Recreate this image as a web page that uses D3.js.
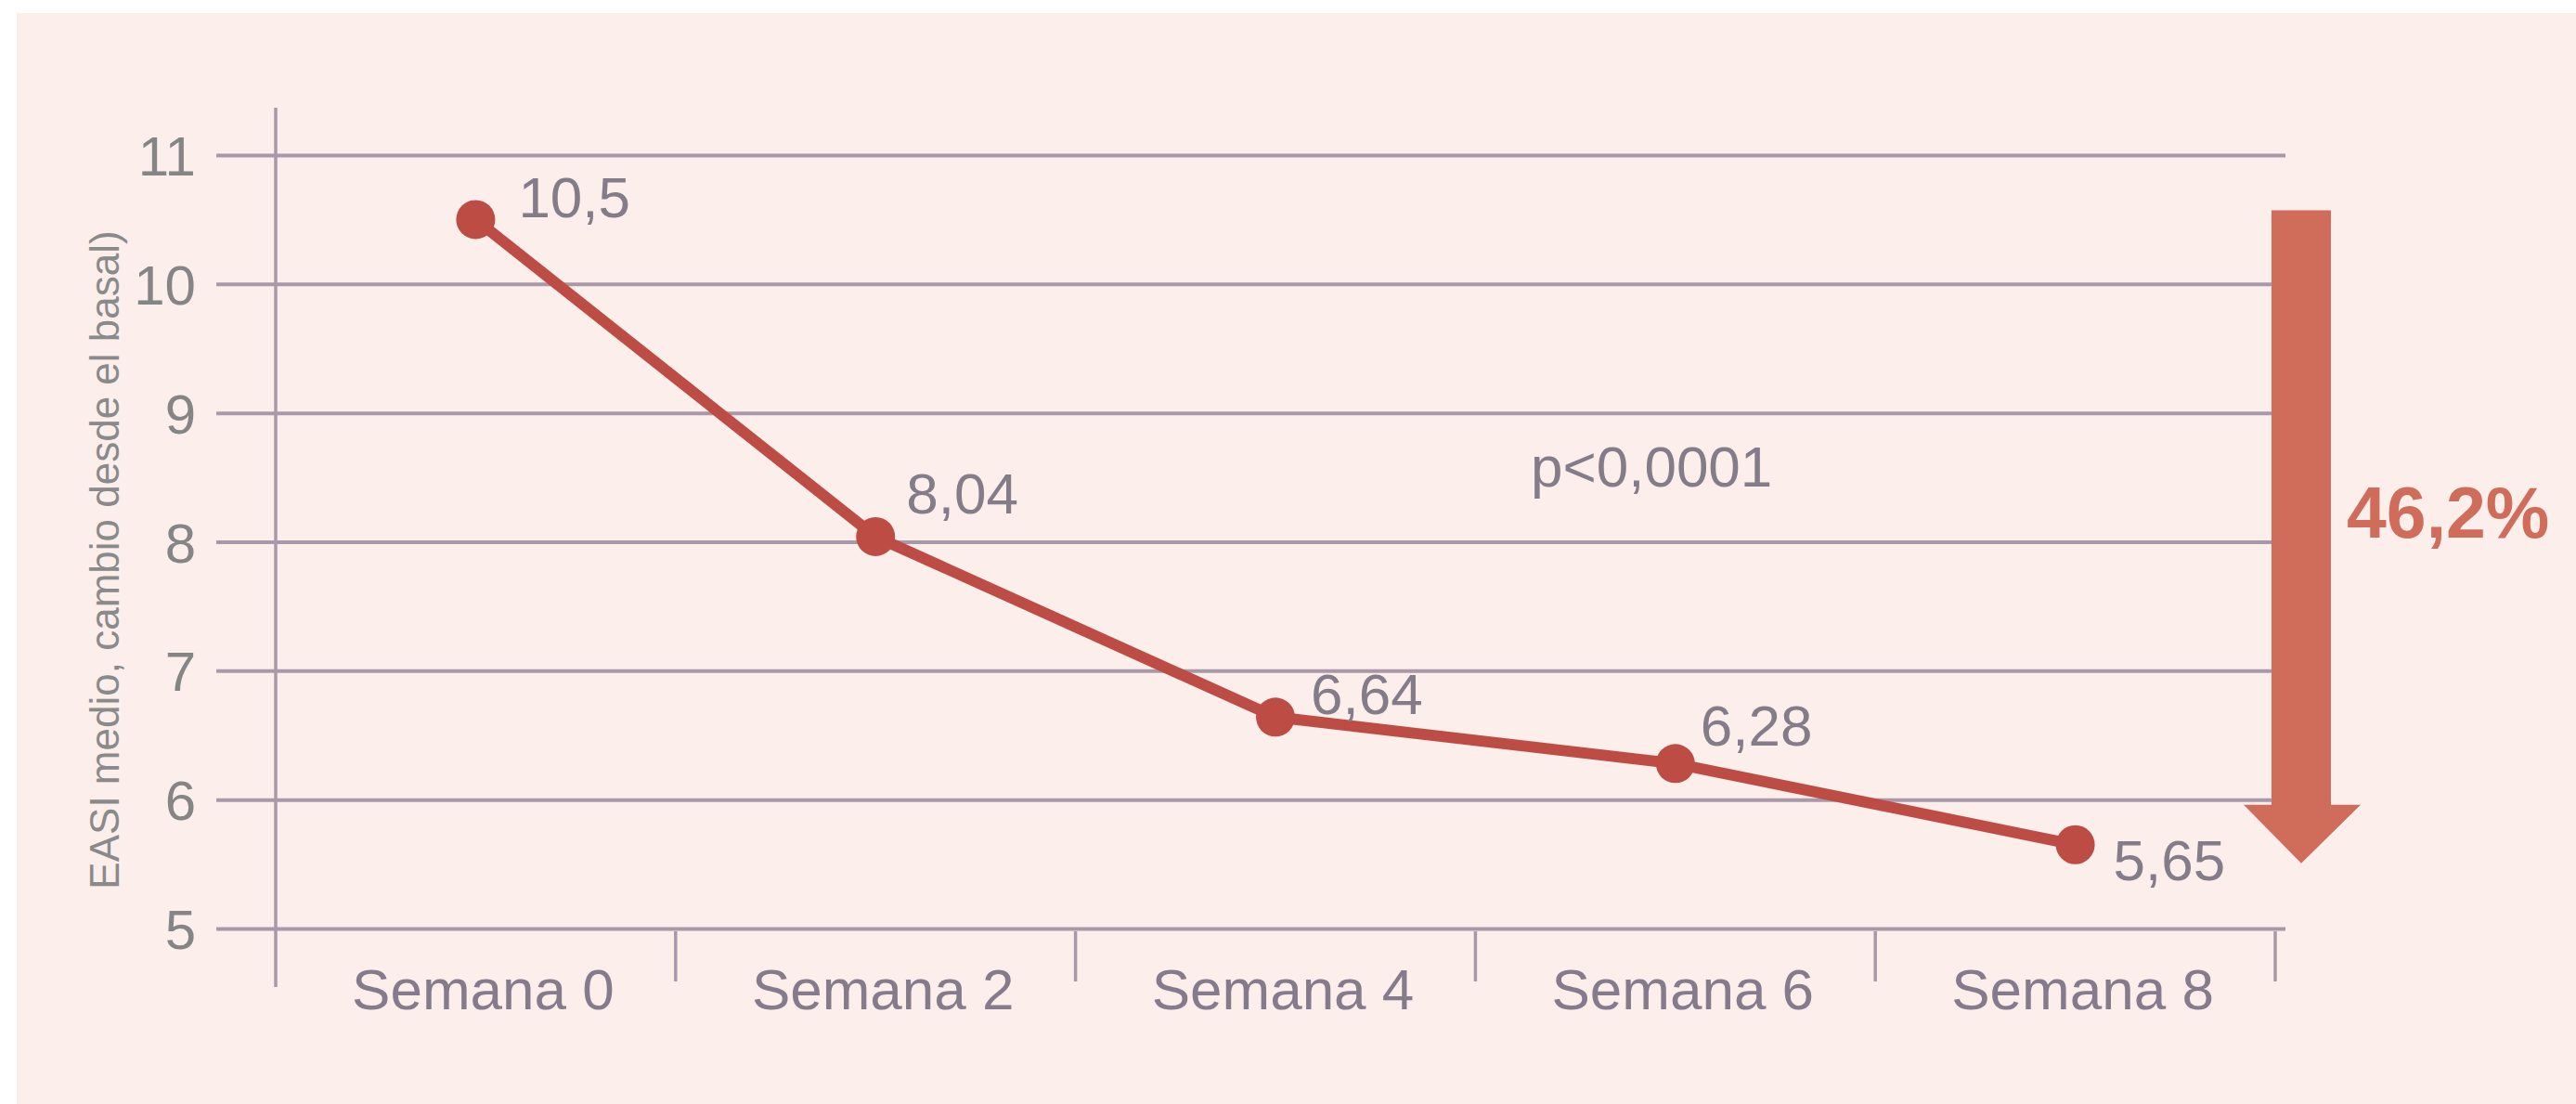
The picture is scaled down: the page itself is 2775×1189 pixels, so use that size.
<!DOCTYPE html>
<html>
<head>
<meta charset="utf-8">
<script src="https://cdn.jsdelivr.net/npm/d3@7"></script>
<style>
  body { margin: 0; background: #ffffff; }
  svg { display: block; font-family: "Liberation Sans", Arial, sans-serif; }
</style>
</head>
<body>
<svg width="2775" height="1189"></svg>
<script>
document.addEventListener("DOMContentLoaded", function() {

    // data
    var weeks = ["Semana 0", "Semana 2", "Semana 4", "Semana 6", "Semana 8"];
    var easi = [10.5, 8.04, 6.64, 6.28, 5.65];
    var easiLabels = ["10,5", "8,04", "6,64", "6,28", "5,65"];
    var yTicks = [5, 6, 7, 8, 9, 10, 11];
    var pText = "p<0,0001";
    var dropText = "46,2%";
    var yTitle = "EASI medio, cambio desde el basal)";

    // label nudges (dx, dy) for each point label
    var labelOffsets = [[46, -2], [33, -25], [38, -3], [27, -19], [41, 38]];

    var gridColor = "#a998aa";
    var lineColor = "#bd4c45";
    var arrowColor = "#cf6c5a";

    var svg = d3.select("svg");

    // pink panel
    svg.append("rect")
        .attr("x", 18)
        .attr("y", 14)
        .attr("width", 2775 - 18)
        .attr("height", 1189 - 14)
        .attr("fill", "#fbeeeb");

    var x = d3.scaleBand()
        .domain(weeks)
        .range([297, 2451])
        .padding(0);

    var y = d3.scaleLinear()
        .domain([5, 11])
        .range([1000, 167]);

    // horizontal gridlines
    svg.append("g")
        .attr("transform", "translate(233,0)")
        .call(d3.axisRight(y).tickValues(yTicks).tickSize(2462 - 233).tickFormat(""))
        .call(g => g.select(".domain").remove())
        .call(g => g.selectAll("line").attr("stroke", gridColor).attr("stroke-width", 4));

    // y tick labels
    svg.append("g")
        .attr("transform", "translate(233,0)")
        .call(d3.axisLeft(y).tickValues(yTicks).tickSize(0).tickPadding(22).tickFormat(d3.format("d")))
        .call(g => g.select(".domain").remove())
        .call(g => g.selectAll("text")
            .attr("font-size", 60)
            .attr("font-family", "Liberation Sans, Arial, sans-serif")
            .attr("fill", "#858585")
            .attr("dy", "0.36em"));

    // y axis line
    svg.append("line")
        .attr("x1", x.range()[0]).attr("x2", x.range()[0])
        .attr("y1", 116).attr("y2", 1063)
        .attr("stroke", gridColor)
        .attr("stroke-width", 3.5);

    // category separators
    svg.append("g")
        .selectAll("line")
        .data(weeks)
        .enter()
        .append("line")
        .attr("x1", d => x(d) + x.bandwidth())
        .attr("x2", d => x(d) + x.bandwidth())
        .attr("y1", 1003)
        .attr("y2", 1057)
        .attr("stroke", gridColor)
        .attr("stroke-width", 3.5);

    // x labels
    svg.append("g")
        .selectAll("text")
        .data(weeks)
        .enter()
        .append("text")
        .attr("x", d => x(d) + x.bandwidth() / 2 + 8)
        .attr("y", 1087)
        .attr("text-anchor", "middle")
        .attr("font-size", 62)
        .attr("fill", "#857b8c")
        .text(d => d);

    // y title
    svg.append("text")
        .attr("transform", "translate(128,603) rotate(-90)")
        .attr("text-anchor", "middle")
        .attr("font-size", 44)
        .attr("fill", "#8a8a8a")
        .text(yTitle);

    // line
    var line = d3.line()
        .x((d, i) => x(weeks[i]) + x.bandwidth() / 2)
        .y(d => y(d));

    svg.append("path")
        .datum(easi)
        .attr("d", line)
        .attr("fill", "none")
        .attr("stroke", lineColor)
        .attr("stroke-width", 12)
        .attr("stroke-linejoin", "round");

    svg.append("g")
        .selectAll("circle")
        .data(easi)
        .enter()
        .append("circle")
        .attr("cx", (d, i) => x(weeks[i]) + x.bandwidth() / 2)
        .attr("cy", d => y(d))
        .attr("r", 21)
        .attr("fill", lineColor);

    // value labels
    svg.append("g")
        .selectAll("text")
        .data(easi)
        .enter()
        .append("text")
        .attr("x", (d, i) => x(weeks[i]) + x.bandwidth() / 2 + labelOffsets[i][0])
        .attr("y", (d, i) => y(d) + labelOffsets[i][1])
        .attr("font-size", 62)
        .attr("fill", "#857c8a")
        .text((d, i) => easiLabels[i]);

    // p value
    svg.append("text")
        .attr("x", 1649)
        .attr("y", 524)
        .attr("font-size", 62)
        .attr("fill", "#857c8a")
        .text(pText);

    // reduction arrow
    var arrowTop = y(d3.max(easi)) - 10;
    var arrowTip = y(d3.min(easi)) + 20;
    var headTop = arrowTip - 63;
    var shaftL = 2447, shaftR = 2511, headL = 2417, headR = 2543, mid = 2479;
    svg.append("path")
        .attr("d", `M${shaftL},${arrowTop} L${shaftR},${arrowTop} L${shaftR},${headTop} L${headR},${headTop}
                    L${mid},${arrowTip} L${headL},${headTop} L${shaftL},${headTop} Z`)
        .attr("fill", arrowColor);

    svg.append("text")
        .attr("x", 2528)
        .attr("y", 579)
        .attr("font-size", 77)
        .attr("font-weight", "bold")
        .attr("fill", arrowColor)
        .text(dropText);
});
</script>
</body>
</html>
